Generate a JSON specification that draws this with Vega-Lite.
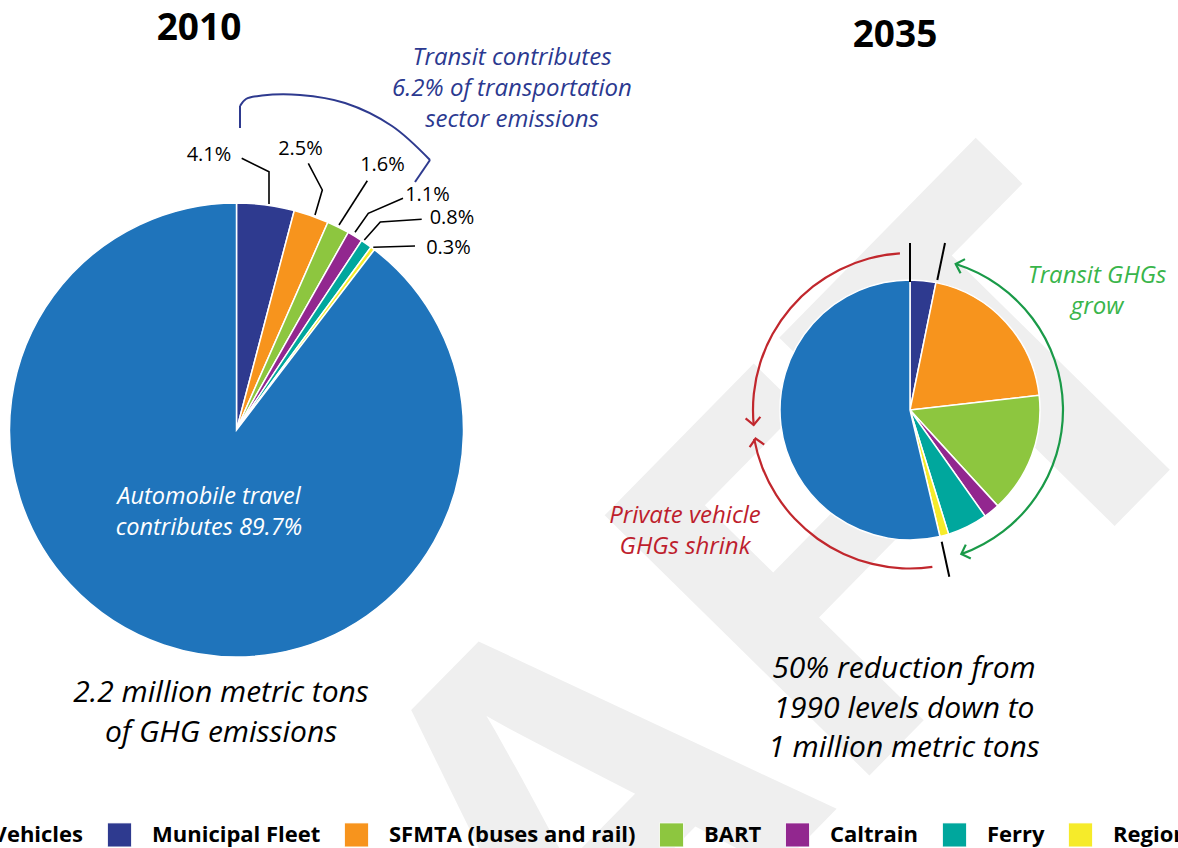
{
  "$schema": "https://vega.github.io/schema/vega-lite/v6.json",
  "width": 1178,
  "height": 848,
  "padding": 0,
  "autosize": {"type": "none"},
  "background": "white",
  "config": {"view": {"stroke": null}, "font": "Open Sans", "text": {"font": "Open Sans"}},
  "datasets": {
    "pies": [
      {"year": "2010", "category": "Municipal Fleet", "share": 4.1, "rank": 1},
      {"year": "2010", "category": "SFMTA (buses and rail)", "share": 2.5, "rank": 2},
      {"year": "2010", "category": "BART", "share": 1.6, "rank": 3},
      {"year": "2010", "category": "Caltrain", "share": 1.1, "rank": 4},
      {"year": "2010", "category": "Ferry", "share": 0.8, "rank": 5},
      {"year": "2010", "category": "Regional", "share": 0.3, "rank": 6},
      {"year": "2010", "category": "Private Vehicles", "share": 89.7, "rank": 7},
      {"year": "2035", "category": "Municipal Fleet", "share": 3.2, "rank": 1},
      {"year": "2035", "category": "SFMTA (buses and rail)", "share": 20.0, "rank": 2},
      {"year": "2035", "category": "BART", "share": 15.0, "rank": 3},
      {"year": "2035", "category": "Caltrain", "share": 2.0, "rank": 4},
      {"year": "2035", "category": "Ferry", "share": 5.0, "rank": 5},
      {"year": "2035", "category": "Regional", "share": 1.1, "rank": 6},
      {"year": "2035", "category": "Private Vehicles", "share": 53.7, "rank": 7}
    ],
    "pctLabels": [
      {"label": "4.1%", "x": 209, "y": 161},
      {"label": "2.5%", "x": 300.5, "y": 155},
      {"label": "1.6%", "x": 382.5, "y": 171},
      {"label": "1.1%", "x": 427.5, "y": 201},
      {"label": "0.8%", "x": 452, "y": 224},
      {"label": "0.3%", "x": 448.5, "y": 254}
    ],
    "leaders": [
      {"id": "a", "seq": 1, "x": 241.7, "y": 158.3},
      {"id": "a", "seq": 2, "x": 269, "y": 171.7},
      {"id": "a", "seq": 3, "x": 269, "y": 204},
      {"id": "b", "seq": 1, "x": 308.3, "y": 163.3},
      {"id": "b", "seq": 2, "x": 322.3, "y": 190},
      {"id": "b", "seq": 3, "x": 315, "y": 215},
      {"id": "c", "seq": 1, "x": 367.3, "y": 180.7},
      {"id": "c", "seq": 2, "x": 339, "y": 225},
      {"id": "d", "seq": 1, "x": 403, "y": 198.3},
      {"id": "d", "seq": 2, "x": 368.3, "y": 213.3},
      {"id": "d", "seq": 3, "x": 355, "y": 232.3},
      {"id": "e", "seq": 1, "x": 421.7, "y": 219.3},
      {"id": "e", "seq": 2, "x": 380.3, "y": 222},
      {"id": "e", "seq": 3, "x": 364.3, "y": 240},
      {"id": "f", "seq": 1, "x": 415, "y": 246},
      {"id": "f", "seq": 2, "x": 373.3, "y": 247.3}
    ],
    "bracket": [
      {"seq": 1, "x": 240, "y": 106},
      {"seq": 2, "x": 246, "y": 99},
      {"seq": 3, "x": 262, "y": 95.5},
      {"seq": 4, "x": 300, "y": 95},
      {"seq": 5, "x": 345, "y": 103},
      {"seq": 6, "x": 392, "y": 126},
      {"seq": 7, "x": 430, "y": 160}
    ],
    "segments": [
      {"kind": "bracket", "x": 240, "y": 106, "x2": 240, "y2": 128},
      {"kind": "bracket", "x": 430, "y": 160, "x2": 415, "y2": 182},
      {"kind": "divider", "x": 910, "y": 243, "x2": 910, "y2": 282},
      {"kind": "divider", "x": 945, "y": 243, "x2": 937.3, "y2": 280},
      {"kind": "divider", "x": 941.7, "y": 541.7, "x2": 949.3, "y2": 576.7}
    ],
    "heads": [
      {"arrow": "red-upper", "x": 753.7, "y": 425, "dir": 84.5},
      {"arrow": "red-lower", "x": 755.6, "y": 438.6, "dir": 259.5},
      {"arrow": "green-top", "x": 955.7, "y": 264, "dir": 197.4},
      {"arrow": "green-bottom", "x": 961.3, "y": 554.1, "dir": 160.4}
    ]
  },
  "layer": [
    {
      "data": {"values": [{"note": "watermark"}]},
      "mark": {"type": "text", "text": "DRAFT", "font": "Open Sans", "fontWeight": "bold", "fontSize": 520, "angle": -45.5, "align": "center", "baseline": "middle", "color": "#efefef"},
      "encoding": {
        "x": {"datum": 550, "type": "quantitative", "scale": {"domain": [0, 1178], "nice": false, "zero": false}, "axis": null},
        "y": {"datum": 878, "type": "quantitative", "scale": {"domain": [0, 848], "nice": false, "zero": false, "reverse": true}, "axis": null}
      }
    },
    {
      "data": {"name": "pies"},
      "transform": [{"filter": "datum.year == '2010'"}],
      "mark": {"type": "arc", "outerRadius": 227, "stroke": "white", "strokeWidth": 1.5},
      "encoding": {
        "theta": {"field": "share", "type": "quantitative", "stack": true},
        "order": {"field": "rank", "type": "quantitative"},
        "color": {
          "field": "category", "type": "nominal",
          "scale": {
            "domain": ["Private Vehicles", "Municipal Fleet", "SFMTA (buses and rail)", "BART", "Caltrain", "Ferry", "Regional"],
            "range": ["#1f74bb", "#2e3a8f", "#f7941d", "#8dc63f", "#92278f", "#00a79d", "#f6eb2a"]
          },
          "legend": {
            "orient": "none", "direction": "horizontal", "legendX": -137, "legendY": 822,
            "title": null, "symbolType": "square", "symbolSize": 576, "symbolStrokeWidth": 0.8, "symbolStrokeColor": "#e8e8e8",
            "labelFont": "Open Sans", "labelFontSize": 22, "labelFontWeight": "bold", "labelColor": "black",
            "labelOffset": 20, "columnPadding": 21, "labelLimit": 0, "symbolOpacity": 1
          }
        },
        "x": {"datum": 236.5, "type": "quantitative", "scale": {"domain": [0, 1178], "nice": false, "zero": false}, "axis": null},
        "y": {"datum": 430, "type": "quantitative", "scale": {"domain": [0, 848], "nice": false, "zero": false, "reverse": true}, "axis": null}
      }
    },
    {
      "data": {"name": "pies"},
      "transform": [{"filter": "datum.year == '2035'"}],
      "mark": {"type": "arc", "outerRadius": 130, "stroke": "white", "strokeWidth": 1.5},
      "encoding": {
        "theta": {"field": "share", "type": "quantitative", "stack": true},
        "order": {"field": "rank", "type": "quantitative"},
        "color": {"field": "category", "type": "nominal"},
        "x": {"datum": 910, "type": "quantitative", "scale": {"domain": [0, 1178], "nice": false, "zero": false}, "axis": null},
        "y": {"datum": 410, "type": "quantitative", "scale": {"domain": [0, 848], "nice": false, "zero": false, "reverse": true}, "axis": null}
      }
    },
    {
      "data": {"name": "leaders"},
      "mark": {"type": "line", "color": "black", "strokeWidth": 1.6},
      "encoding": {
        "x": {"field": "x", "type": "quantitative", "scale": {"domain": [0, 1178], "nice": false, "zero": false}, "axis": null},
        "y": {"field": "y", "type": "quantitative", "scale": {"domain": [0, 848], "nice": false, "zero": false, "reverse": true}, "axis": null},
        "detail": {"field": "id", "type": "nominal"},
        "order": {"field": "seq", "type": "quantitative"}
      }
    },
    {
      "data": {"name": "pctLabels"},
      "mark": {"type": "text", "fontSize": 20, "align": "center", "baseline": "alphabetic", "color": "black"},
      "encoding": {
        "x": {"field": "x", "type": "quantitative", "scale": {"domain": [0, 1178], "nice": false, "zero": false}, "axis": null},
        "y": {"field": "y", "type": "quantitative", "scale": {"domain": [0, 848], "nice": false, "zero": false, "reverse": true}, "axis": null},
        "text": {"field": "label", "type": "nominal"}
      }
    },
    {
      "data": {"name": "bracket"},
      "mark": {"type": "line", "color": "#2e3a8f", "strokeWidth": 2, "interpolate": "catmull-rom"},
      "encoding": {
        "x": {"field": "x", "type": "quantitative", "scale": {"domain": [0, 1178], "nice": false, "zero": false}, "axis": null},
        "y": {"field": "y", "type": "quantitative", "scale": {"domain": [0, 848], "nice": false, "zero": false, "reverse": true}, "axis": null},
        "order": {"field": "seq", "type": "quantitative"}
      }
    },
    {
      "data": {"name": "segments"},
      "mark": {"type": "rule", "strokeWidth": 2},
      "encoding": {
        "x": {"field": "x", "type": "quantitative", "scale": {"domain": [0, 1178], "nice": false, "zero": false}, "axis": null},
        "y": {"field": "y", "type": "quantitative", "scale": {"domain": [0, 848], "nice": false, "zero": false, "reverse": true}, "axis": null},
        "x2": {"field": "x2"},
        "y2": {"field": "y2"},
        "color": {"condition": {"test": "datum.kind == 'bracket'", "value": "#2e3a8f"}, "value": "black"}
      }
    },
    {
      "data": {"values": [{"arrow": "red-upper"}]},
      "mark": {"type": "arc", "theta": 4.616, "theta2": 6.219, "innerRadius": 155.9, "outerRadius": 158.1, "color": "#c1272d"},
      "encoding": {
        "x": {"datum": 910, "type": "quantitative", "scale": {"domain": [0, 1178], "nice": false, "zero": false}, "axis": null},
        "y": {"datum": 410, "type": "quantitative", "scale": {"domain": [0, 848], "nice": false, "zero": false, "reverse": true}, "axis": null}
      }
    },
    {
      "data": {"values": [{"arrow": "red-lower"}]},
      "mark": {"type": "arc", "theta": 3.0, "theta2": 4.529, "innerRadius": 157.4, "outerRadius": 159.6, "color": "#c1272d"},
      "encoding": {
        "x": {"datum": 910, "type": "quantitative", "scale": {"domain": [0, 1178], "nice": false, "zero": false}, "axis": null},
        "y": {"datum": 410, "type": "quantitative", "scale": {"domain": [0, 848], "nice": false, "zero": false, "reverse": true}, "axis": null}
      }
    },
    {
      "data": {"values": [{"arrow": "green"}]},
      "mark": {"type": "arc", "theta": 0.3037, "theta2": 2.7995, "innerRadius": 151.9, "outerRadius": 154.1, "color": "#1a9a48"},
      "encoding": {
        "x": {"datum": 910, "type": "quantitative", "scale": {"domain": [0, 1178], "nice": false, "zero": false}, "axis": null},
        "y": {"datum": 410, "type": "quantitative", "scale": {"domain": [0, 848], "nice": false, "zero": false, "reverse": true}, "axis": null}
      }
    },
    {
      "data": {"name": "heads"},
      "mark": {"type": "point", "shape": "M-1,-1L0,0L-1,1", "filled": false, "size": 220, "strokeWidth": 2.2, "opacity": 1},
      "encoding": {
        "x": {"field": "x", "type": "quantitative", "scale": {"domain": [0, 1178], "nice": false, "zero": false}, "axis": null},
        "y": {"field": "y", "type": "quantitative", "scale": {"domain": [0, 848], "nice": false, "zero": false, "reverse": true}, "axis": null},
        "angle": {"field": "dir", "type": "quantitative", "scale": null},
        "stroke": {"condition": {"test": "indexof(datum.arrow, 'red') == 0", "value": "#c1272d"}, "value": "#1a9a48"}
      }
    },
    {
      "data": {"values": [{"note": "title2010"}]},
      "mark": {"type": "text", "text": "2010", "fontSize": 37, "fontWeight": "bold", "align": "center", "baseline": "alphabetic", "color": "black"},
      "encoding": {
        "x": {"datum": 199, "type": "quantitative", "scale": {"domain": [0, 1178], "nice": false, "zero": false}, "axis": null},
        "y": {"datum": 40, "type": "quantitative", "scale": {"domain": [0, 848], "nice": false, "zero": false, "reverse": true}, "axis": null}
      }
    },
    {
      "data": {"values": [{"note": "title2035"}]},
      "mark": {"type": "text", "text": "2035", "fontSize": 37, "fontWeight": "bold", "align": "center", "baseline": "alphabetic", "color": "black"},
      "encoding": {
        "x": {"datum": 895, "type": "quantitative", "scale": {"domain": [0, 1178], "nice": false, "zero": false}, "axis": null},
        "y": {"datum": 47, "type": "quantitative", "scale": {"domain": [0, 848], "nice": false, "zero": false, "reverse": true}, "axis": null}
      }
    },
    {
      "data": {"values": [{"note": "transit"}]},
      "mark": {"type": "text", "text": ["Transit contributes", "6.2% of transportation", "sector emissions"], "fontSize": 24, "fontStyle": "italic", "lineHeight": 31, "align": "center", "baseline": "alphabetic", "color": "#2b3990"},
      "encoding": {
        "x": {"datum": 512, "type": "quantitative", "scale": {"domain": [0, 1178], "nice": false, "zero": false}, "axis": null},
        "y": {"datum": 65, "type": "quantitative", "scale": {"domain": [0, 848], "nice": false, "zero": false, "reverse": true}, "axis": null}
      }
    },
    {
      "data": {"values": [{"note": "auto"}]},
      "mark": {"type": "text", "text": ["Automobile travel", "contributes 89.7%"], "fontSize": 23.5, "fontStyle": "italic", "lineHeight": 31, "align": "center", "baseline": "alphabetic", "color": "white"},
      "encoding": {
        "x": {"datum": 209, "type": "quantitative", "scale": {"domain": [0, 1178], "nice": false, "zero": false}, "axis": null},
        "y": {"datum": 504, "type": "quantitative", "scale": {"domain": [0, 848], "nice": false, "zero": false, "reverse": true}, "axis": null}
      }
    },
    {
      "data": {"values": [{"note": "total2010"}]},
      "mark": {"type": "text", "text": ["2.2 million metric tons", "of GHG emissions"], "fontSize": 30, "fontStyle": "italic", "lineHeight": 39.5, "align": "center", "baseline": "alphabetic", "color": "black"},
      "encoding": {
        "x": {"datum": 221, "type": "quantitative", "scale": {"domain": [0, 1178], "nice": false, "zero": false}, "axis": null},
        "y": {"datum": 702, "type": "quantitative", "scale": {"domain": [0, 848], "nice": false, "zero": false, "reverse": true}, "axis": null}
      }
    },
    {
      "data": {"values": [{"note": "total2035"}]},
      "mark": {"type": "text", "text": ["50% reduction from", "1990 levels down to", "1 million metric tons"], "fontSize": 30, "fontStyle": "italic", "lineHeight": 39.5, "align": "center", "baseline": "alphabetic", "color": "black"},
      "encoding": {
        "x": {"datum": 904, "type": "quantitative", "scale": {"domain": [0, 1178], "nice": false, "zero": false}, "axis": null},
        "y": {"datum": 678, "type": "quantitative", "scale": {"domain": [0, 848], "nice": false, "zero": false, "reverse": true}, "axis": null}
      }
    },
    {
      "data": {"values": [{"note": "transitGrow"}]},
      "mark": {"type": "text", "text": ["Transit GHGs", "grow"], "fontSize": 24, "fontStyle": "italic", "lineHeight": 31, "align": "center", "baseline": "alphabetic", "color": "#39b54a"},
      "encoding": {
        "x": {"datum": 1097, "type": "quantitative", "scale": {"domain": [0, 1178], "nice": false, "zero": false}, "axis": null},
        "y": {"datum": 283, "type": "quantitative", "scale": {"domain": [0, 848], "nice": false, "zero": false, "reverse": true}, "axis": null}
      }
    },
    {
      "data": {"values": [{"note": "privateShrink"}]},
      "mark": {"type": "text", "text": ["Private vehicle", "GHGs shrink"], "fontSize": 24, "fontStyle": "italic", "lineHeight": 31, "align": "center", "baseline": "alphabetic", "color": "#be1e2d"},
      "encoding": {
        "x": {"datum": 685, "type": "quantitative", "scale": {"domain": [0, 1178], "nice": false, "zero": false}, "axis": null},
        "y": {"datum": 523, "type": "quantitative", "scale": {"domain": [0, 848], "nice": false, "zero": false, "reverse": true}, "axis": null}
      }
    }
  ],
  "resolve": {"scale": {"theta": "independent"}}
}
